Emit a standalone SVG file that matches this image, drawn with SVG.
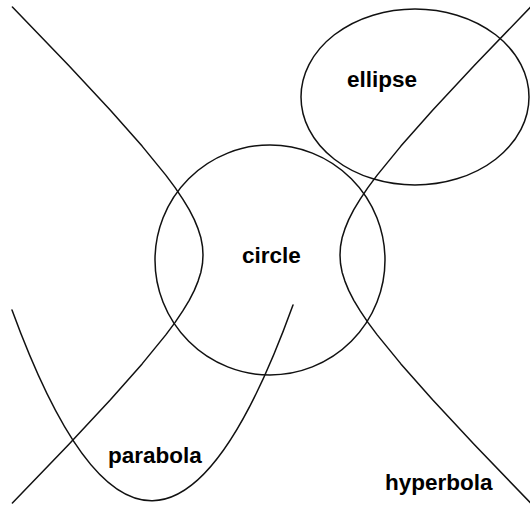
<svg xmlns="http://www.w3.org/2000/svg" width="530" height="505" viewBox="0 0 530 505">
  <style>
    .curve { fill: none; stroke: #111; stroke-width: 1.5; stroke-linejoin: round; stroke-linecap: round; }
    .label { font-family: "Liberation Sans", Arial, sans-serif; font-weight: bold; font-size: 22.5px; fill: #000; }
  </style>
  <rect width="530" height="505" fill="#fff"/>
  <g id="ellipse">
    <ellipse class="curve" cx="415" cy="97" rx="114" ry="88"/>
    <text class="label" x="347" y="87">ellipse</text>
  </g>
  <g id="circle">
    <circle class="curve" cx="270" cy="260" r="115"/>
    <text class="label" x="242" y="263">circle</text>
  </g>
  <g id="parabola">
    <path class="curve" d="M12,310 Q152.5,694 293,305"/>
    <text class="label" x="108" y="463">parabola</text>
  </g>
  <g id="hyperbola">
    <polyline class="curve" points="12.4,7 68.5,65.3 110.4,110.2 142.1,146.1 165.8,175.1 175.1,187.6 182.8,199.1 189.2,209.7 194.3,219.6 198.1,228.9 200.9,237.8 202.5,246.5 203,255 202.5,263.5 200.9,272.2 198.1,281.1 194.3,290.4 189.2,300.3 182.8,310.9 175.1,322.4 165.8,334.9 142.1,363.9 110.4,399.8 68.5,444.8 12.4,503"/>
    <polyline class="curve" points="530.6,7 474.5,65.3 432.6,110.2 400.9,146.1 377.2,175.1 367.9,187.6 360.2,199.1 353.8,209.7 348.7,219.6 344.9,228.9 342.1,237.8 340.5,246.5 340,255 340.5,263.5 342.1,272.2 344.9,281.1 348.7,290.4 353.8,300.3 360.2,310.9 367.9,322.4 377.2,334.9 400.9,363.9 432.6,399.8 474.5,444.8 530.6,503"/>
    <text class="label" x="385" y="490">hyperbola</text>
  </g>
</svg>
